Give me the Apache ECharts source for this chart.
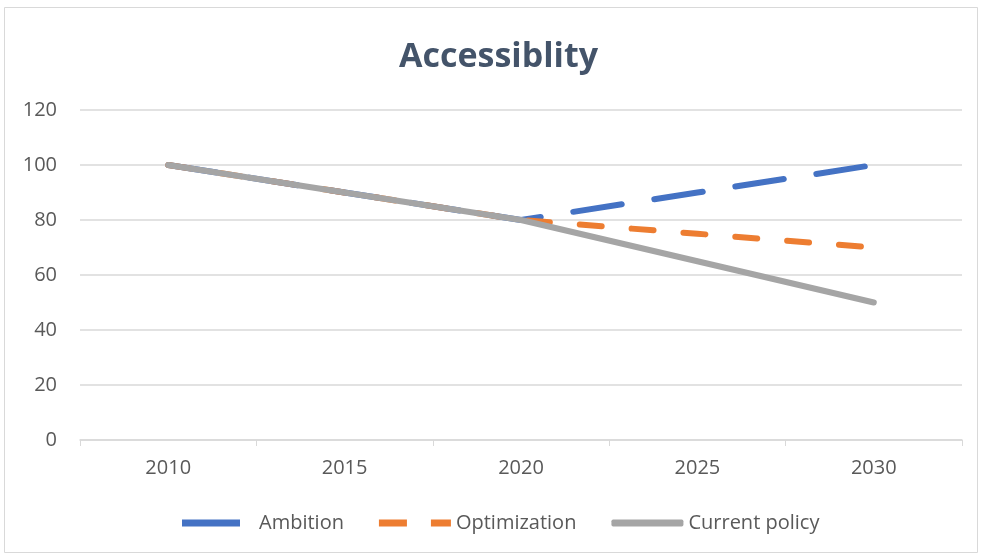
<!DOCTYPE html>
<html><head><meta charset="utf-8">
<script src="https://cdn.jsdelivr.net/npm/echarts@6/dist/echarts.min.js"></script>
<style>html,body{margin:0;padding:0;background:#fff}#c{width:981px;height:557px}</style>
</head><body><div id="c"></div>
<script>
var categories = ['2010','2015','2020','2025','2030'];
var ambition = [100, 90, 80, 90, 100];
var optimization = [100, 90, 80, 75, 70];
var currentPolicy = [100, 90, 80, 65, 50];
var yTicks = {min: 0, max: 120, interval: 20};

var chart = echarts.init(document.getElementById('c'));
var font = '"Open Sans", "Noto Sans", sans-serif';
chart.setOption({
  animation: false,
  backgroundColor: '#fff',
  graphic: [{type:'rect', shape:{x:4.5,y:7.5,width:973,height:545}, style:{fill:'none', stroke:'#d9d9d9', lineWidth:1}, silent:true}],
  title: {text:'Accessiblity', left:394, top:35, textStyle:{fontFamily:font, fontWeight:'bold', fontSize:34, color:'#44546A'}},
  grid: {left:80, right:19, top:110, bottom:117},
  xAxis: {type:'category', data:categories, boundaryGap:true,
    axisLine:{lineStyle:{color:'#d9d9d9', width:1.5}},
    axisTick:{show:true, length:6, lineStyle:{color:'#d9d9d9'}},
    axisLabel:{margin:18, fontFamily:font, fontSize:20, color:'#595959'}},
  yAxis: {type:'value', min:yTicks.min, max:yTicks.max, interval:yTicks.interval,
    axisLine:{show:false}, axisTick:{show:false},
    splitLine:{lineStyle:{color:'#d9d9d9', width:1.5}},
    axisLabel:{margin:23, fontFamily:font, fontSize:20, color:'#595959'}},
  legend: {top:508, left:177, itemWidth:72, itemHeight:7, itemGap:35,
    textStyle:{fontFamily:font, fontSize:20, color:'#595959'},
    data:[
      {name:'Ambition', icon:'path://M0,0L58,0L58,7L0,7ZM72,7L72,7'},
      {name:'Optimization', icon:'path://M0,0L28,0L28,7L0,7ZM52,0L72,0L72,7L52,7Z'},
      {name:'Current policy', icon:'roundRect'}
    ]},
  series: [
    {name:'Ambition', type:'line', data:ambition, symbol:'none', z:2,
      lineStyle:{color:'#4472C4', width:6, type:[49,33], cap:'round'}, itemStyle:{color:'#4472C4'}},
    {name:'Optimization', type:'line', data:optimization, symbol:'none', z:3,
      lineStyle:{color:'#ED7D31', width:6, type:[22,30], cap:'round'}, itemStyle:{color:'#ED7D31'}},
    {name:'Current policy', type:'line', data:currentPolicy, symbol:'none', z:4,
      lineStyle:{color:'#A5A5A5', width:6, cap:'round'}, itemStyle:{color:'#A5A5A5'}}
  ]
});
</script></body></html>
